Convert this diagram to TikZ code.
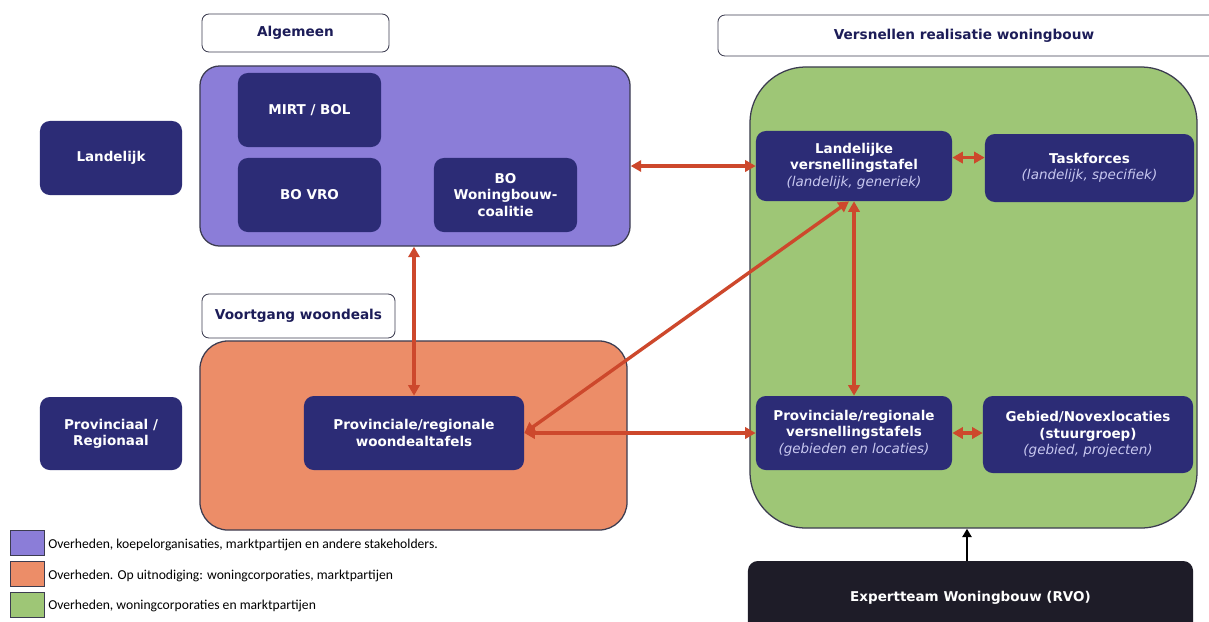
\documentclass[tikz,border=0pt]{standalone}
\usepackage{fontspec}
\setmainfont{DejaVu Sans}
\newfontfamily\legendfont{Carlito}
\usetikzlibrary{arrows.meta,calc}

\definecolor{navybox}{RGB}{44,44,118}
\definecolor{navytext}{RGB}{28,28,88}
\definecolor{subtext}{RGB}{200,200,240}
\definecolor{purplearea}{RGB}{139,125,216}
\definecolor{orangearea}{RGB}{236,141,104}
\definecolor{greenarea}{RGB}{158,198,118}
\definecolor{arrowred}{RGB}{205,72,44}
\definecolor{expertbox}{RGB}{30,28,40}
\definecolor{frameline}{RGB}{60,60,80}

\newcommand{\subline}[1]{{\itshape\mdseries\color{subtext}#1}}

\tikzset{
  header/.style={draw=frameline, line width=0.6pt, fill=white, rounded corners=5pt,
    font=\fontsize{9.7}{11.5}\selectfont\bfseries, text=navytext},
  area/.style={draw=frameline, line width=0.9pt, inner sep=0pt},
  tablebox/.style={fill=navybox, rounded corners=7pt, text=white, align=center,
    font=\fontsize{9.6}{11.6}\selectfont\bfseries},
  link/.style={draw=arrowred, line width=2.4pt, {Triangle[length=7.5pt,width=8pt]}-{Triangle[length=7.5pt,width=8pt]}},
  swatch/.style={draw=frameline, line width=0.7pt},
  legendtext/.style={anchor=west, font=\legendfont\fontsize{9.7}{11}\selectfont, inner sep=0pt}
}

\begin{document}
\begin{tikzpicture}[x=0.025cm, y=-0.025cm]

    % --- Page ---
    \useasboundingbox[fill=white] (0,0) rectangle (1209,621);

    % --- Headers ---
    \node[header, minimum width=4.675cm, minimum height=0.95cm] (algemeen) at (295.5,33) {Algemeen};
    \node[header, minimum width=12.55cm, minimum height=1.025cm] (versnellen) at (969,35.5) {Versnellen realisatie woningbouw\hspace*{0.25cm}};
    \node[header, minimum width=4.825cm, minimum height=1.1cm] (voortgang) at (298.5,316) {Voortgang woondeals};

    % --- Coloured areas ---
    \node[area, fill=purplearea, rounded corners=14pt, minimum width=10.75cm, minimum height=4.5cm] (algarea) at (415,156) {};
    \node[area, fill=orangearea, rounded corners=20pt, minimum width=10.675cm, minimum height=4.725cm] (woonarea) at (413.5,435.5) {};
    \node[area, fill=greenarea, rounded corners=40pt, minimum width=11.175cm, minimum height=11.525cm] (versnarea) at (973.5,297.5) {};

    % --- Level labels ---
    \node[tablebox, minimum width=3.55cm, minimum height=1.85cm] (landelijk) at (111,158) {Landelijk};
    \node[tablebox, minimum width=3.55cm, minimum height=1.825cm] (provinciaal) at (111,433.5) {Provinciaal /\\Regionaal};

    % --- Algemeen ---
    \node[tablebox, minimum width=3.575cm, minimum height=1.85cm] (mirt) at (309.5,110) {MIRT / BOL};
    \node[tablebox, minimum width=3.575cm, minimum height=1.85cm] (bovro) at (309.5,195) {BO VRO};
    \node[tablebox, minimum width=3.575cm, minimum height=1.85cm] (bowoning) at (505.5,195) {BO\\Woningbouw-\\coalitie};

    % --- Woondeals ---
    \node[tablebox, minimum width=5.5cm, minimum height=1.85cm] (woondeal) at (414,433) {Provinciale/regionale\\woondealtafels};

    % --- Versnellingstafels ---
    \node[tablebox, minimum width=4.9cm, minimum height=1.75cm] (landtafel) at (854,166)
      {Landelijke\\versnellingstafel\\\subline{(landelijk, generiek)}};
    \node[tablebox, minimum width=5.225cm, minimum height=1.7cm] (taskforces) at (1089.5,168)
      {Taskforces\\\subline{(landelijk, specifiek)}};
    \node[tablebox, minimum width=4.9cm, minimum height=1.85cm] (provtafel) at (854,433)
      {Provinciale/regionale\\versnellingstafels\\\subline{(gebieden en locaties)}};
    \node[tablebox, minimum width=5.25cm, minimum height=1.925cm] (gebied) at (1088,434.5)
      {Gebied/Novexlocaties\\(stuurgroep)\\\subline{(gebied, projecten)}};

    % --- Expertteam ---
    \node[tablebox, fill=expertbox, minimum width=11.125cm, minimum height=1.9cm] (expert) at (970.5,599)
      {\raisebox{0.12cm}{Expertteam Woningbouw (RVO)}};

    % --- Connections ---
    \draw[link] (landtafel.west -| algarea.east) -- (landtafel.west);
    \draw[link] (woondeal.north |- algarea.south) -- (woondeal.north);
    \draw[link] (woondeal.east) -- ($(landtafel.south)+(-5,0)$);
    \draw[link] (woondeal.east) -- (provtafel.west);
    \draw[link] (landtafel.south) -- (provtafel.north);
    \draw[link] ([yshift=6pt]landtafel.east) -- ([yshift=6pt]landtafel.east -| taskforces.west);
    \draw[link] (provtafel.east) -- (provtafel.east -| gebied.west);
    \draw[line width=1.6pt, -{Triangle[length=6pt,width=6.5pt]}] ([xshift=-2.5pt]expert.north) -- ([xshift=-2.5pt]expert.north |- versnarea.south);

    % --- Legend ---
    \node[swatch, fill=purplearea, minimum width=0.85cm, minimum height=0.625cm] (legpurple) at (27,542.5) {};
    \node[swatch, fill=orangearea, minimum width=0.85cm, minimum height=0.625cm] (legorange) at (27,573.5) {};
    \node[swatch, fill=greenarea, minimum width=0.85cm, minimum height=0.625cm] (leggreen) at (27,605) {};
    \node[legendtext] (legpurpletext) at (48,545) {Overheden, koepelorganisaties, marktpartijen en andere stakeholders.};
    \node[legendtext] (legorangetext) at (48,576) {Overheden. Op uitnodiging: woningcorporaties, marktpartijen};
    \node[legendtext] (leggreentext) at (48,606) {Overheden, woningcorporaties en marktpartijen};

\end{tikzpicture}
\end{document}
